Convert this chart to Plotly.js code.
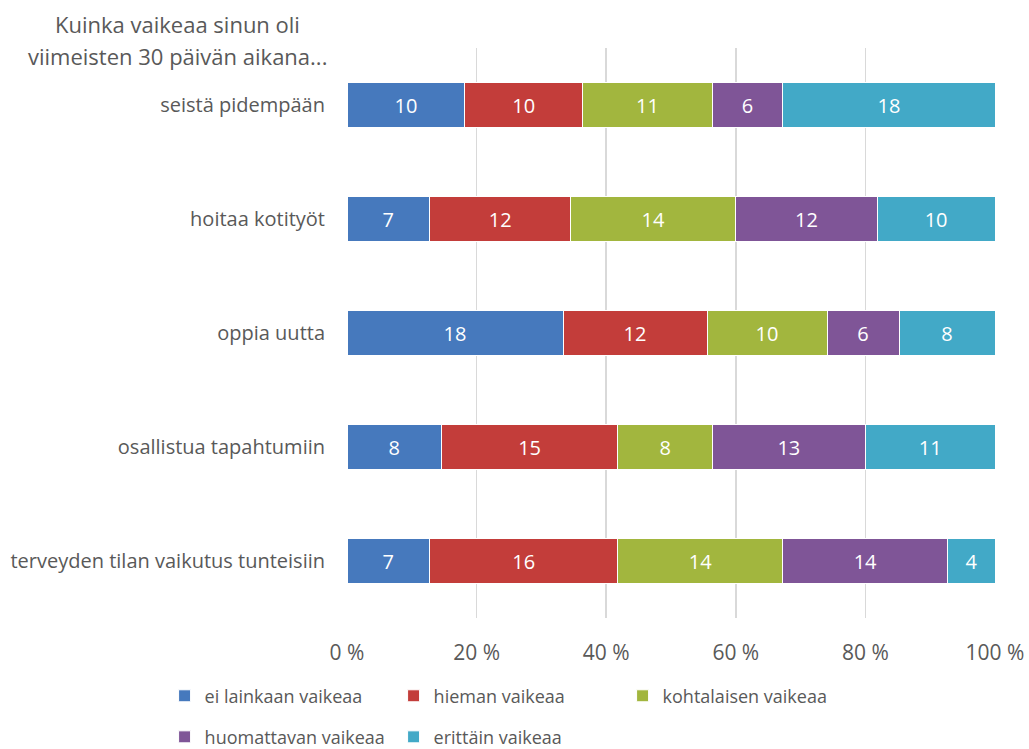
<!DOCTYPE html>
<html>
<head>
<meta charset="utf-8">
<script src="https://cdn.plot.ly/plotly-3.0.1.min.js"></script>
<style>html,body{margin:0;padding:0;background:#fff;}#chart{width:1029px;height:749px;}</style>
</head>
<body>
<div id="chart"></div>
<script>
const categories = ["seistä pidempään", "hoitaa kotityöt", "oppia uutta", "osallistua tapahtumiin", "terveyden tilan vaikutus tunteisiin"];
const seriesNames = ["ei lainkaan vaikeaa", "hieman vaikeaa", "kohtalaisen vaikeaa", "huomattavan vaikeaa", "erittäin vaikeaa"];
const eiLainkaan = [10, 7, 18, 8, 7];
const hieman = [10, 12, 12, 15, 16];
const kohtalaisen = [11, 14, 10, 8, 14];
const huomattavan = [6, 12, 6, 13, 14];
const erittain = [18, 10, 8, 11, 4];
const colors = ["#4679bd", "#c33d3a", "#a2b63e", "#7f5597", "#42a9c7"];
const tickVals = [0, 20, 40, 60, 80, 100];
const tickText = ["0 %", "20 %", "40 %", "60 %", "80 %", "100 %"];
const titleLines = ["Kuinka vaikeaa sinun oli", "viimeisten 30 päivän aikana..."];

const seriesValues = [eiLainkaan, hieman, kohtalaisen, huomattavan, erittain];
const legendIds = ["legend", "legend", "legend", "legend2", "legend2"];
const baseFont = "Open Sans, Noto Sans, sans-serif";

const traces = seriesValues.map((vals, i) => ({
  type: "bar",
  orientation: "h",
  name: seriesNames[i],
  y: categories,
  x: vals,
  text: vals.map(String),
  textposition: "inside",
  insidetextanchor: "middle",
  textfont: {color: "#ffffff", size: 20, family: baseFont},
  marker: {color: colors[i], line: {color: "#ffffff", width: 1}},
  legend: legendIds[i],
  hoverinfo: "skip"
}));

const legendCommon = {
  orientation: "h",
  x: -0.2815, xanchor: "left",
  yanchor: "middle",
  entrywidth: 184, entrywidthmode: "pixels",
  itemwidth: 30,
  font: {size: 18, family: baseFont, color: "#595959"},
  bgcolor: "rgba(0,0,0,0)",
  traceorder: "normal"
};

const layout = {
  width: 1029,
  height: 749,
  margin: {l: 347, r: 34, t: 48, b: 131, autoexpand: false},
  paper_bgcolor: "#ffffff",
  plot_bgcolor: "#ffffff",
  barmode: "stack",
  barnorm: "percent",
  bargap: 0.6,
  font: {family: baseFont, color: "#595959"},
  xaxis: {
    range: [0, 100],
    tickvals: tickVals,
    ticktext: tickText,
    showgrid: true,
    gridcolor: "#d9d9d9",
    gridwidth: 1.5,
    zeroline: false,
    showline: false,
    ticks: "",
    ticklabelstandoff: 20,
    tickfont: {size: 21, family: baseFont, color: "#595959"},
    fixedrange: true
  },
  yaxis: {
    autorange: "reversed",
    showgrid: false,
    zeroline: false,
    showline: false,
    ticks: "",
    ticklabelstandoff: 21,
    tickfont: {size: 20, family: baseFont, color: "#595959"},
    fixedrange: true
  },
  showlegend: true,
  legend: Object.assign({}, legendCommon, {y: -0.137}),
  legend2: Object.assign({}, legendCommon, {y: -0.209}),
  annotations: titleLines.map((t, i) => ({
    text: t,
    xref: "paper", yref: "paper",
    x: -0.262, xanchor: "center",
    y: 1 + (24 - i * 32) / 570, yanchor: "middle",
    showarrow: false,
    font: {size: 22, family: baseFont, color: "#595959"}
  }))
};

Plotly.newPlot("chart", traces, layout, {displayModeBar: false, staticPlot: true});
</script>
</body>
</html>
